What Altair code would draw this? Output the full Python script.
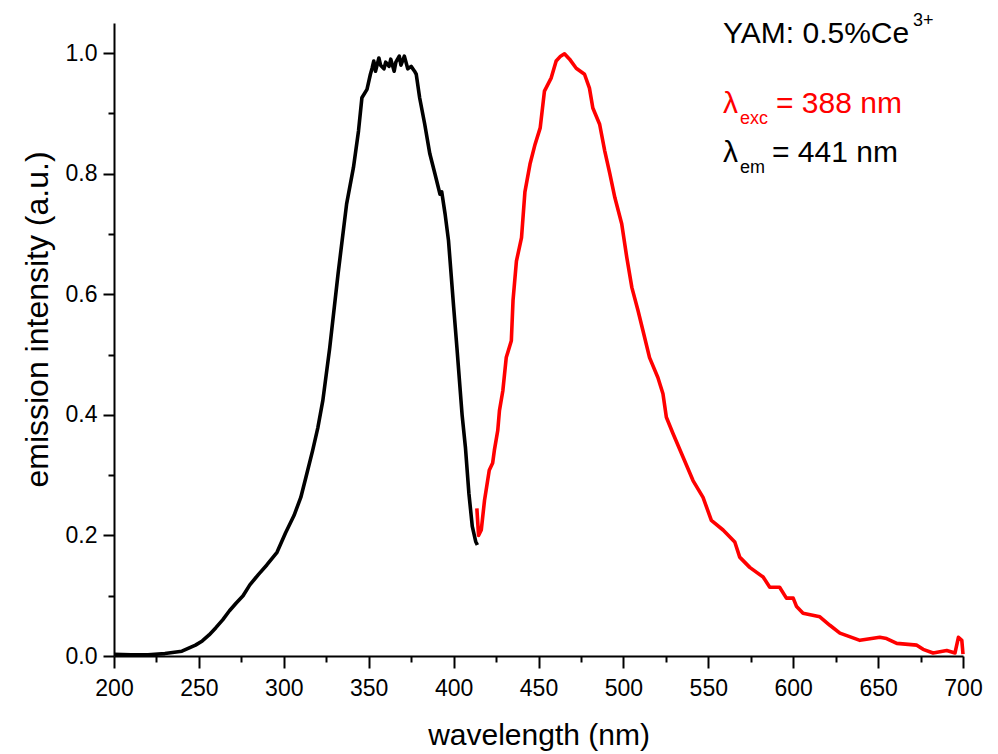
import altair as alt
import pandas as pd

# excitation spectrum (black), lambda_em = 441 nm
ex_nm = [200, 210, 220, 230, 240, 244, 248, 252, 256, 260, 264, 268, 272, 276, 280,
         285, 290, 296, 301, 306, 310, 313, 317, 320, 323, 327, 332, 337, 341, 344,
         346, 349, 351, 352, 353, 354, 356, 357, 359, 360, 362, 363, 365, 366, 368,
         369, 371, 373, 375, 377, 378, 380, 383, 386, 389, 392, 393, 395, 397, 400,
         402, 405, 407, 409, 411, 413, 414]
ex_int = [0.003, 0.002, 0.002, 0.004, 0.008, 0.013, 0.018, 0.025, 0.035, 0.047, 0.06, 0.075, 0.088, 0.1, 0.118,
          0.135, 0.151, 0.172, 0.204, 0.233, 0.263, 0.296, 0.341, 0.378, 0.424, 0.51, 0.635, 0.75, 0.81, 0.871,
          0.926, 0.94, 0.965, 0.975, 0.987, 0.97, 0.992, 0.98, 0.974, 0.985, 0.978, 0.99, 0.97, 0.985, 0.995,
          0.98, 0.995, 0.974, 0.978, 0.97, 0.965, 0.926, 0.882, 0.833, 0.80, 0.766, 0.77, 0.733, 0.689, 0.58,
          0.51, 0.40, 0.345, 0.27, 0.215, 0.19, 0.184]

# emission spectrum (red), lambda_exc = 388 nm
em_nm = [413.7, 414.7, 416.3, 418.2, 421, 423, 424, 426, 427, 429, 431, 434, 435, 437, 440,
         442, 445, 448, 451, 453.5, 457.5, 460.4, 463, 465.3, 468.3, 472.2, 477.1, 480, 482, 486,
         489, 492, 495, 499, 502, 505, 508.6, 511.5, 515.4, 520.3, 523.3, 525.3, 529.2, 535.1, 541,
         546.9, 551.8, 558.7, 565.6, 568.5, 574.4, 582.3, 586.2, 592, 596, 600, 602, 605.8, 615.7, 621.6,
         627.5, 639.3, 651, 655, 661, 672.8, 676.5, 682.4, 690.4, 695.3, 697.3, 699.3, 700]
em_int = [0.245, 0.2, 0.209, 0.258, 0.308, 0.32, 0.341, 0.374, 0.407, 0.44, 0.495, 0.523, 0.59, 0.655, 0.694,
          0.77, 0.816, 0.849, 0.876, 0.937, 0.959, 0.987, 0.995, 0.999, 0.99, 0.975, 0.965, 0.942, 0.909, 0.882,
          0.838, 0.80, 0.76, 0.717, 0.661, 0.611, 0.573, 0.54, 0.495, 0.462, 0.435, 0.396, 0.369, 0.33, 0.291,
          0.263, 0.225, 0.209, 0.189, 0.164, 0.147, 0.131, 0.114, 0.114, 0.096, 0.096, 0.082, 0.071, 0.065, 0.051,
          0.038, 0.026, 0.031, 0.029, 0.021, 0.018, 0.011, 0.005, 0.009, 0.005, 0.031, 0.026, 0.003]

x_ticks = [200 + 25 * i for i in range(21)]
y_ticks = [round(0.1 * i, 1) for i in range(11)]

FONT = "Liberation Sans"
W, H = 849, 633

ex_df = pd.DataFrame({"nm": ex_nm, "I": ex_int})
em_df = pd.DataFrame({"nm": em_nm, "I": em_int})

x_axis = alt.Axis(
    values=x_ticks, title="wavelength (nm)", grid=False,
    labelExpr="datum.value % 50 === 0 ? datum.label : ''",
    tickSize={"condition": {"test": "datum.value % 50 === 0", "value": 12}, "value": 6},
    tickWidth=2, domainWidth=2, domainColor="black", tickColor="black",
    labelFont=FONT, labelFontSize=23, labelColor="black", labelPadding=9,
    titleFont=FONT, titleFontSize=30, titleFontWeight="normal", titleColor="black", titlePadding=20,
    labelFlush=False, labelOverlap=False,
)
y_axis = alt.Axis(
    values=y_ticks, title="emission intensity (a.u.)", grid=False, format=".1f",
    labelExpr="round(datum.value * 10) % 2 === 0 ? datum.label : ''",
    tickSize={"condition": {"test": "round(datum.value * 10) % 2 === 0", "value": 11}, "value": 6},
    tickWidth=2, domainWidth=2, domainColor="black", tickColor="black",
    labelFont=FONT, labelFontSize=23, labelColor="black", labelPadding=6,
    titleFont=FONT, titleFontSize=32, titleFontWeight="normal", titleColor="black", titlePadding=11,
    titleY=296,
    labelFlush=False, labelOverlap=False,
)

xs = alt.Scale(domain=[200, 700], nice=False, zero=False)
ys = alt.Scale(domain=[0, 1.05], nice=False)

ex_line = alt.Chart(ex_df).mark_line(color="black", strokeWidth=3.6, strokeJoin="round").encode(
    x=alt.X("nm:Q", scale=xs, axis=x_axis),
    y=alt.Y("I:Q", scale=ys, axis=y_axis),
    order="nm:Q",
)
em_line = alt.Chart(em_df).mark_line(color="#ff0000", strokeWidth=3.6, strokeJoin="round").encode(
    x=alt.X("nm:Q", scale=xs),
    y=alt.Y("I:Q", scale=ys),
    order="nm:Q",
)

one = pd.DataFrame({"a": [0]})


def label(text, x, y, size, color):
    return alt.Chart(one).mark_text(
        text=text, font=FONT, fontSize=size, color=color, align="left", baseline="alphabetic"
    ).encode(x=alt.value(x), y=alt.value(y))


texts = [
    label("YAM: 0.5%Ce", 609, 20, 30, "black"),
    label("3+", 799, 3, 18, "black"),
    label("λ", 609, 90, 30, "#ff0000"),
    label("exc", 626, 101, 18, "#ff0000"),
    label("= 388 nm", 662, 90, 30, "#ff0000"),
    label("λ", 609, 139, 30, "black"),
    label("em", 626, 150, 18, "black"),
    label("= 441 nm", 658, 139, 30, "black"),
]

chart = alt.layer(ex_line, em_line, *texts).properties(
    width=W, height=H,
    autosize=alt.AutoSizeParams(type="none"),
    padding={"left": 114, "top": 23, "right": 35, "bottom": 98},
    background="white",
).configure_view(stroke=None)

chart.save("out.html", embed_options={"renderer": "svg", "actions": False})
